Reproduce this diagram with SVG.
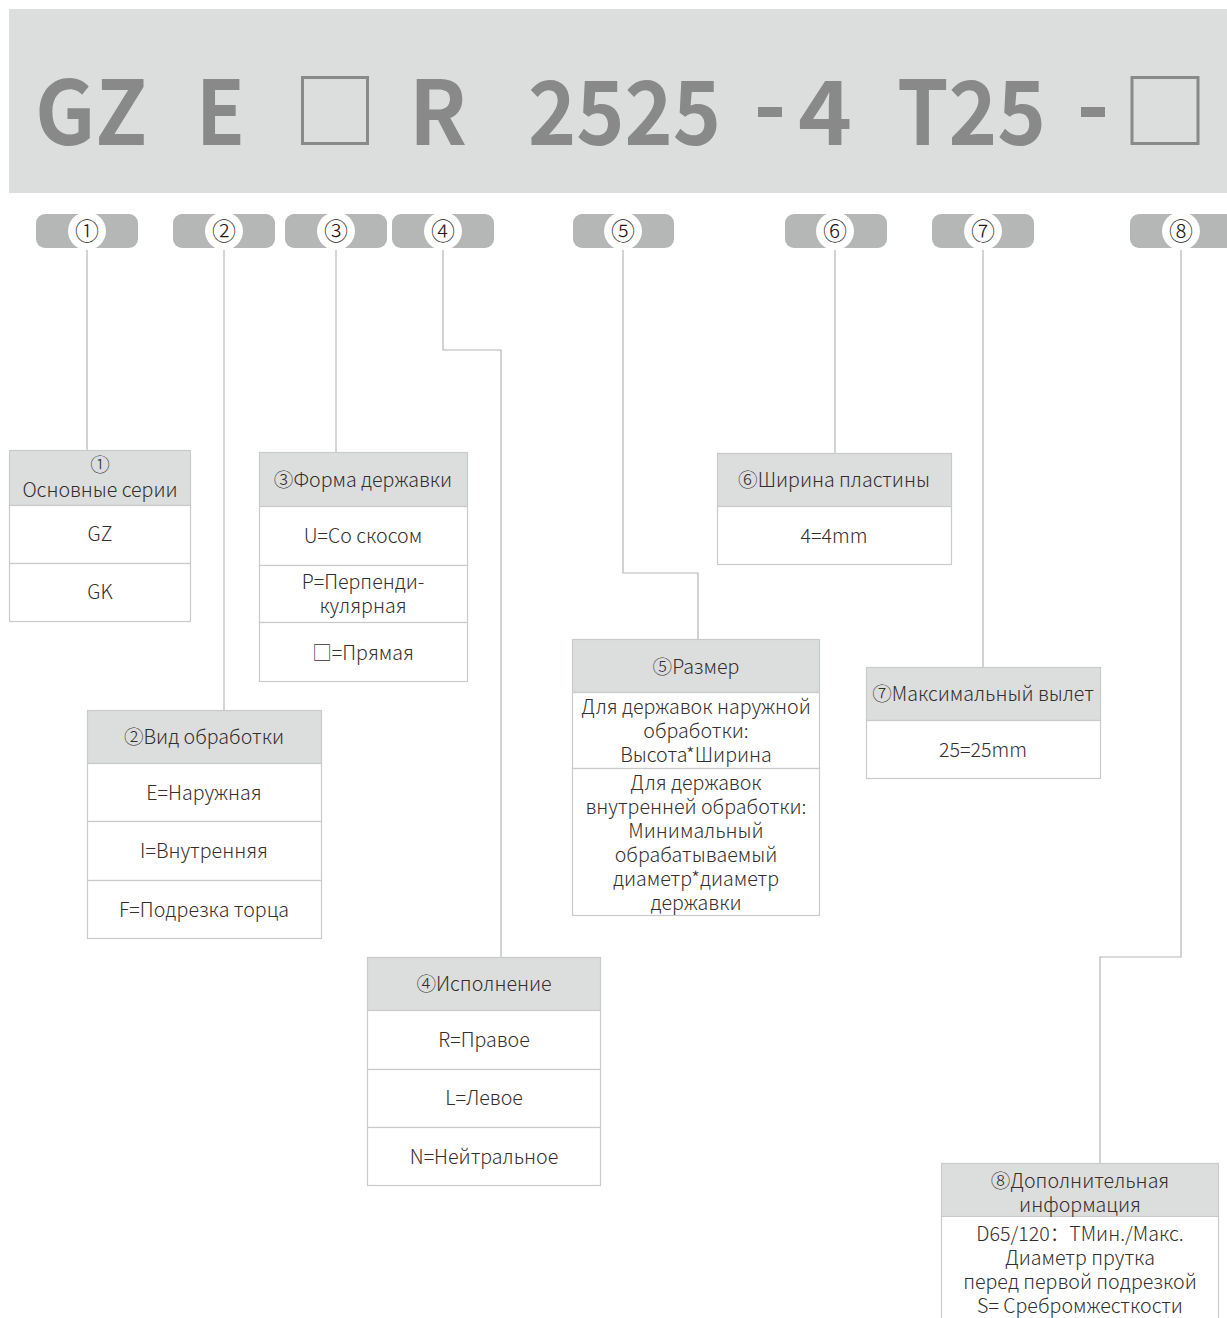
<svg xmlns="http://www.w3.org/2000/svg" width="1227" height="1318" viewBox="0 0 1227 1318">
<style>
.big{font-family:"Noto Sans CJK SC","Noto Sans",sans-serif;font-weight:bold;font-size:89px;fill:#898989}
.pill{fill:#b5b6b6}
.dot{fill:#ffffff}
.num{font-family:"Noto Sans CJK SC","Noto Sans",sans-serif;font-weight:300;font-size:24px;fill:#231815;text-anchor:middle}
.hd{fill:#dcdddd;stroke:#c9caca;stroke-width:1.2}
.cell{fill:#ffffff;stroke:#c9caca;stroke-width:1.2}
.t{font-family:"Noto Sans CJK SC","Noto Sans",sans-serif;font-weight:300;font-size:19.6px;fill:#332f2e;text-anchor:middle}
.ln{fill:none;stroke:#b5b6b6;stroke-width:1.2}
</style>
<rect width="1227" height="1318" fill="#ffffff"/>
<g id="banner">
<rect x="9" y="9" width="1218" height="184" fill="#dcdddd"/>
<text class="big" x="35" y="145" textLength="112" lengthAdjust="spacingAndGlyphs">GZ</text>
<text class="big" x="196" y="145" textLength="49" lengthAdjust="spacingAndGlyphs">E</text>
<rect x="302.5" y="77.5" width="65" height="66" fill="none" stroke="#898989" stroke-width="3"/>
<text class="big" x="409" y="145" textLength="58" lengthAdjust="spacingAndGlyphs">R</text>
<text class="big" x="528" y="145" textLength="193" lengthAdjust="spacingAndGlyphs">2525</text>
<rect x="758" y="107" width="24" height="10" fill="#898989"/>
<text class="big" x="798" y="145" textLength="54" lengthAdjust="spacingAndGlyphs">4</text>
<text class="big" x="897" y="145" textLength="149" lengthAdjust="spacingAndGlyphs">T25</text>
<rect x="1081" y="107" width="24" height="10" fill="#898989"/>
<rect x="1132" y="77.5" width="66" height="66" fill="none" stroke="#898989" stroke-width="3"/>
</g>
<g id="connectors">
<path class="ln" d="M87 250V450"/>
<path class="ln" d="M224 250V710"/>
<path class="ln" d="M336 250V452"/>
<path class="ln" d="M443 250V350H501V957"/>
<path class="ln" d="M623 250V573H698V639"/>
<path class="ln" d="M835 250V453"/>
<path class="ln" d="M983 250V667"/>
<path class="ln" d="M1181 250V957H1100V1163"/>
</g>
<g id="pills">
<g id="pill1"><rect class="pill" x="36" y="214" width="102" height="34" rx="9"/><circle class="dot" cx="87" cy="231" r="19"/><text class="num" x="87" y="240">①</text></g>
<g id="pill2"><rect class="pill" x="173" y="214" width="102" height="34" rx="9"/><circle class="dot" cx="224" cy="231" r="19"/><text class="num" x="224" y="240">②</text></g>
<g id="pill3"><rect class="pill" x="285" y="214" width="102" height="34" rx="9"/><circle class="dot" cx="336" cy="231" r="19"/><text class="num" x="336" y="240">③</text></g>
<g id="pill4"><rect class="pill" x="392" y="214" width="102" height="34" rx="9"/><circle class="dot" cx="443" cy="231" r="19"/><text class="num" x="443" y="240">④</text></g>
<g id="pill5"><rect class="pill" x="573" y="214" width="101" height="34" rx="9"/><circle class="dot" cx="623" cy="231" r="19"/><text class="num" x="623" y="240">⑤</text></g>
<g id="pill6"><rect class="pill" x="785" y="214" width="102" height="34" rx="9"/><circle class="dot" cx="835" cy="231" r="19"/><text class="num" x="835" y="240">⑥</text></g>
<g id="pill7"><rect class="pill" x="932" y="214" width="102" height="34" rx="9"/><circle class="dot" cx="983" cy="231" r="19"/><text class="num" x="983" y="240">⑦</text></g>
<g id="pill8"><rect class="pill" x="1130" y="214" width="110" height="34" rx="9"/><circle class="dot" cx="1181" cy="231" r="19"/><text class="num" x="1181" y="240">⑧</text></g>
</g>
<g id="box1">
<rect class="hd" x="9.5" y="450.5" width="181" height="55"/>
<rect class="cell" x="9.5" y="505.5" width="181" height="58"/>
<rect class="cell" x="9.5" y="563.5" width="181" height="58"/>
<text class="t" x="100" y="472">①</text>
<text class="t" x="100" y="497">Основные серии</text>
<text class="t" x="100" y="541">GZ</text>
<text class="t" x="100" y="599">GK</text>
</g>
<g id="box2">
<rect class="hd" x="87.5" y="710.5" width="234" height="53"/>
<rect class="cell" x="87.5" y="763.5" width="234" height="58"/>
<rect class="cell" x="87.5" y="821.5" width="234" height="59"/>
<rect class="cell" x="87.5" y="880.5" width="234" height="58"/>
<text class="t" x="204" y="744">②Вид обработки</text>
<text class="t" x="204" y="800">E=Наружная</text>
<text class="t" x="204" y="858">I=Внутренняя</text>
<text class="t" x="204" y="917">F=Подрезка торца</text>
</g>
<g id="box3">
<rect class="hd" x="259.5" y="452.5" width="208" height="54"/>
<rect class="cell" x="259.5" y="506.5" width="208" height="59"/>
<rect class="cell" x="259.5" y="565.5" width="208" height="57"/>
<rect class="cell" x="259.5" y="622.5" width="208" height="59"/>
<text class="t" x="363" y="487">③Форма державки</text>
<text class="t" x="363" y="543">U=Со скосом</text>
<text class="t" x="363" y="589">P=Перпенди-</text>
<text class="t" x="363" y="613">кулярная</text>
<text class="t" x="363" y="660">□=Прямая</text>
</g>
<g id="box4">
<rect class="hd" x="367.5" y="957.5" width="233" height="53"/>
<rect class="cell" x="367.5" y="1010.5" width="233" height="59"/>
<rect class="cell" x="367.5" y="1069.5" width="233" height="58"/>
<rect class="cell" x="367.5" y="1127.5" width="233" height="58"/>
<text class="t" x="484" y="991">④Исполнение</text>
<text class="t" x="484" y="1047">R=Правое</text>
<text class="t" x="484" y="1105">L=Левое</text>
<text class="t" x="484" y="1164">N=Нейтральное</text>
</g>
<g id="box5">
<rect class="hd" x="572.5" y="639.5" width="247" height="53"/>
<rect class="cell" x="572.5" y="692.5" width="247" height="76"/>
<rect class="cell" x="572.5" y="768.5" width="247" height="147"/>
<text class="t" x="696" y="674">⑤Размер</text>
<text class="t" x="696" y="714">Для державок наружной</text>
<text class="t" x="696" y="738">обработки:</text>
<text class="t" x="696" y="762">Высота*Ширина</text>
<text class="t" x="696" y="790">Для державок</text>
<text class="t" x="696" y="814">внутренней обработки:</text>
<text class="t" x="696" y="838">Минимальный</text>
<text class="t" x="696" y="862">обрабатываемый</text>
<text class="t" x="696" y="886">диаметр*диаметр</text>
<text class="t" x="696" y="910">державки</text>
</g>
<g id="box6">
<rect class="hd" x="717.5" y="453.5" width="234" height="53"/>
<rect class="cell" x="717.5" y="506.5" width="234" height="58"/>
<text class="t" x="834" y="487">⑥Ширина пластины</text>
<text class="t" x="834" y="543">4=4mm</text>
</g>
<g id="box7">
<rect class="hd" x="866.5" y="667.5" width="234" height="53"/>
<rect class="cell" x="866.5" y="720.5" width="234" height="58"/>
<text class="t" x="983" y="701">⑦Максимальный вылет</text>
<text class="t" x="983" y="757">25=25mm</text>
</g>
<g id="box8">
<rect class="hd" x="941.5" y="1163.5" width="277" height="53"/>
<path class="cell" d="M941.5 1318V1216.5H1218.5V1318"/>
<text class="t" x="1080" y="1188">⑧Дополнительная</text>
<text class="t" x="1080" y="1212">информация</text>
<text class="t" x="1080" y="1241">D65/120：ТМин./Макс.</text>
<text class="t" x="1080" y="1265">Диаметр прутка</text>
<text class="t" x="1080" y="1289">перед первой подрезкой</text>
<text class="t" x="1080" y="1313">S= Сребромжесткости</text>
</g>
</svg>
